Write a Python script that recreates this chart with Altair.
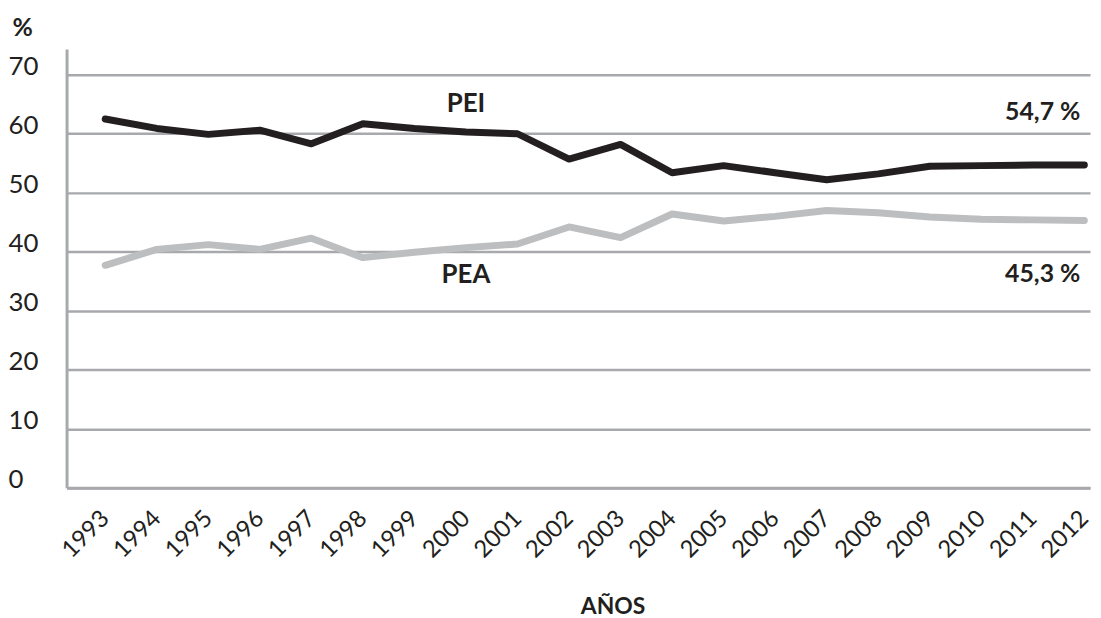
import altair as alt
import pandas as pd

years = list(range(1993, 2013))
pei = [62.5, 60.9, 59.9, 60.6, 58.3, 61.7, 60.9, 60.3, 60.0, 55.7,
       58.2, 53.4, 54.6, 53.4, 52.2, 53.2, 54.5, 54.6, 54.7, 54.7]
pea = [37.7, 40.4, 41.2, 40.4, 42.3, 39.0, 39.9, 40.7, 41.3, 44.2,
       42.4, 46.4, 45.2, 46.0, 47.0, 46.6, 45.9, 45.5, 45.4, 45.3]

series_names = ["PEI", "PEA"]
series_colors = ["#231F20", "#BCBEC0"]

name_labels = ["PEI", "PEA"]
name_years = [2000, 2000]
name_values = [65.0, 36.0]

end_labels = ["54,7 %", "45,3 %"]
end_years = [2012, 2012]
end_values = [63.6, 36.2]

y_ticks = [0, 10, 20, 30, 40, 50, 60, 70]

rows = []
for y, a, b in zip(years, pei, pea):
    rows.append({"year": y, "serie": "PEI", "valor": a})
    rows.append({"year": y, "serie": "PEA", "valor": b})
df = pd.DataFrame(rows)

names_df = pd.DataFrame({"year": name_years, "valor": name_values, "txt": name_labels})
ends_df = pd.DataFrame({"year": end_years, "valor": end_values, "txt": end_labels})

FONT = "Lato"
TXT = "#231F20"
GRID = "#A7A9AC"

x_scale = alt.Scale(domain=[1992.25, 2012.11], nice=False, zero=False)
y_scale = alt.Scale(domain=[0, 74.375], nice=False)

x_axis = alt.Axis(
    values=years, format="d", labelAngle=315, labelAlign="right",
    labelBaseline="middle", labelPadding=27, labelOverlap=False,
    labelFlush=False, labelFont=FONT, labelFontSize=24, labelColor=TXT,
    grid=False, ticks=False, tickSize=0, domainColor=GRID, domainWidth=3,
    title="AÑOS", titleX=550, titleY=127, titleAlign="center",
    titleBaseline="alphabetic", titleFont=FONT, titleFontSize=23,
    titleFontWeight="bold", titleColor=TXT,
)
y_axis = alt.Axis(
    values=y_ticks, grid=True, gridColor=GRID, gridWidth=2.5,
    domainColor=GRID, domainWidth=3, ticks=False, tickSize=0,
    labelAlign="left", labelBaseline="alphabetic", labelPadding=59,
    labelFont=FONT, labelFontSize=26, labelColor=TXT,
    title="%", titleAngle=0, titleAlign="left", titleBaseline="alphabetic",
    titleX=-55, titleY=-14, titleFont=FONT, titleFontSize=25,
    titleFontWeight="bold", titleColor=TXT,
)

lines = alt.Chart(df).mark_line(strokeWidth=7, strokeCap="round", strokeJoin="round").encode(
    x=alt.X("year:Q", scale=x_scale, axis=x_axis),
    y=alt.Y("valor:Q", scale=y_scale, axis=y_axis),
    color=alt.Color("serie:N", scale=alt.Scale(domain=series_names, range=series_colors), legend=None),
    detail="serie:N",
)

names = alt.Chart(names_df).mark_text(
    font=FONT, fontSize=26, fontWeight="bold", color=TXT, align="center", baseline="middle"
).encode(x=alt.X("year:Q", scale=x_scale), y=alt.Y("valor:Q", scale=y_scale), text="txt:N")

ends = alt.Chart(ends_df).mark_text(
    font=FONT, fontSize=25, fontWeight="bold", color=TXT, align="right", baseline="middle", dx=-4
).encode(x=alt.X("year:Q", scale=x_scale), y=alt.Y("valor:Q", scale=y_scale), text="txt:N")

chart = alt.layer(lines, names, ends).properties(
    width=1031, height=442,
    autosize=alt.AutoSizeParams(type="none"),
    padding={"left": 59, "top": 39, "right": 3, "bottom": 129},
    background="white",
).configure_view(stroke=None)

chart.save("out.html", embed_options={"renderer": "svg", "actions": False})
